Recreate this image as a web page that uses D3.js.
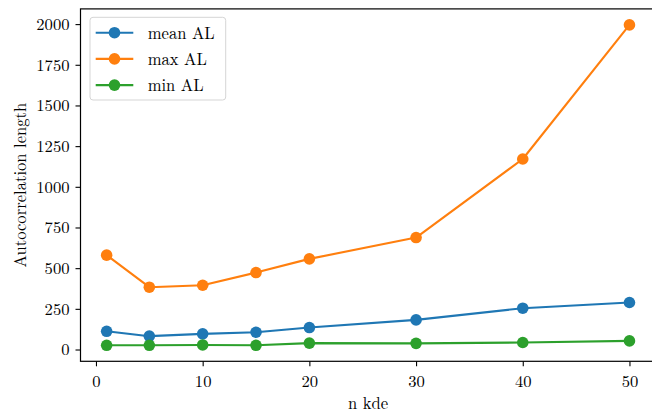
<!DOCTYPE html>
<html>
<head>
<meta charset="utf-8">
<script src="https://cdn.jsdelivr.net/npm/d3@7"></script>
<style>
  html, body { margin: 0; padding: 0; background: #fff; }
  svg { display: block; }
  svg text { font-family: "Latin Modern Roman", "Liberation Serif", serif; font-size: 16.6px; fill: #000; }
</style>
</head>
<body>
<svg id="chart" width="652" height="412"></svg>
<script>
// Number of KDE components tested
const nKde = [1, 5, 10, 15, 20, 30, 40, 50];
// Autocorrelation length statistics per n kde
const meanAL = [112, 82, 96, 106, 135, 182, 254, 289];
const maxAL  = [580, 383, 395, 473, 557, 688, 1171, 1995];
const minAL  = [26, 26, 28, 26, 39, 38, 43, 53];

const seriesNames  = ["mean AL", "max AL", "min AL"];
const seriesColors = ["#1f77b4", "#ff7f0e", "#2ca02c"];
const xTicks = [0, 10, 20, 30, 40, 50];
const yTicks = [0, 250, 500, 750, 1000, 1250, 1500, 1750, 2000];

const series = [meanAL, maxAL, minAL].map((vals, i) => ({
  name: seriesNames[i],
  color: seriesColors[i],
  points: vals.map((v, j) => ({ x: nKde[j], y: v }))
}));

const svg = d3.select("#chart");
const plotLeft = 80.5, plotRight = 655.6, plotTop = 8.9, plotBottom = 361.3;

// Data limits padded by 5% on each side
const xMin = d3.min(nKde), xMax = d3.max(nKde);
const allY = [].concat(meanAL, maxAL, minAL);
const yMin = d3.min(allY), yMax = d3.max(allY);
const xPad = (xMax - xMin) * 0.05, yPad = (yMax - yMin) * 0.05;

const x = d3.scaleLinear().domain([xMin - xPad, xMax + xPad]).range([plotLeft, plotRight]);
const y = d3.scaleLinear().domain([yMin - yPad, yMax + yPad]).range([plotBottom, plotTop]);

// Axes
const xAxis = svg.append("g")
  .attr("transform", `translate(0,${plotBottom})`)
  .call(d3.axisBottom(x).tickValues(xTicks).tickSize(5).tickFormat(d3.format("d")));
xAxis.selectAll("text").attr("y", 26).attr("dy", 0);

const yAxis = svg.append("g")
  .attr("transform", `translate(${plotLeft},0)`)
  .call(d3.axisLeft(y).tickValues(yTicks).tickSize(5).tickPadding(6).tickFormat(d3.format("d")));
yAxis.selectAll("text").attr("dy", "0.32em");

[xAxis, yAxis].forEach(g => {
  g.attr("font-family", null).attr("font-size", null);
  g.select(".domain").remove();
  g.selectAll("line").attr("stroke", "#000").attr("stroke-width", 1.1);
  g.selectAll("text").attr("fill", "#000");
});

// Frame
svg.append("rect")
  .attr("x", plotLeft).attr("y", plotTop)
  .attr("width", plotRight - plotLeft).attr("height", plotBottom - plotTop)
  .attr("fill", "none").attr("stroke", "#000").attr("stroke-width", 1.2);

// Series lines and markers
const line = d3.line().x(d => x(d.x)).y(d => y(d.y));
series.forEach(s => {
  const g = svg.append("g");
  g.append("path")
    .attr("d", line(s.points))
    .attr("fill", "none").attr("stroke", s.color).attr("stroke-width", 2.1)
    .attr("stroke-linejoin", "round");
  g.selectAll("circle").data(s.points).enter().append("circle")
    .attr("cx", d => x(d.x)).attr("cy", d => y(d.y)).attr("r", 5.8)
    .attr("fill", s.color);
});

// Axis labels
svg.append("text")
  .attr("x", (plotLeft + plotRight) / 2).attr("y", 408.5)
  .attr("text-anchor", "middle")
  .text("n kde");
svg.append("text")
  .attr("transform", `translate(26,${(plotTop + plotBottom) / 2}) rotate(-90)`)
  .attr("text-anchor", "middle")
  .text("Autocorrelation length");

// Legend
const lg = svg.append("g");
lg.append("rect")
  .attr("x", 90).attr("y", 17.3).attr("width", 135.7).attr("height", 82.7)
  .attr("rx", 3).attr("fill", "#fff").attr("fill-opacity", 0.8)
  .attr("stroke", "#d5d5d5").attr("stroke-width", 1);
series.forEach((s, i) => {
  const cy = 32.7 + i * 26.2;
  lg.append("line")
    .attr("x1", 95.7).attr("x2", 133.3).attr("y1", cy).attr("y2", cy)
    .attr("stroke", s.color).attr("stroke-width", 2.1);
  lg.append("circle").attr("cx", 114.5).attr("cy", cy).attr("r", 5.8).attr("fill", s.color);
  lg.append("text")
    .attr("x", 147.7).attr("y", cy + 5.8)
    .text(s.name);
});
</script>
</body>
</html>
